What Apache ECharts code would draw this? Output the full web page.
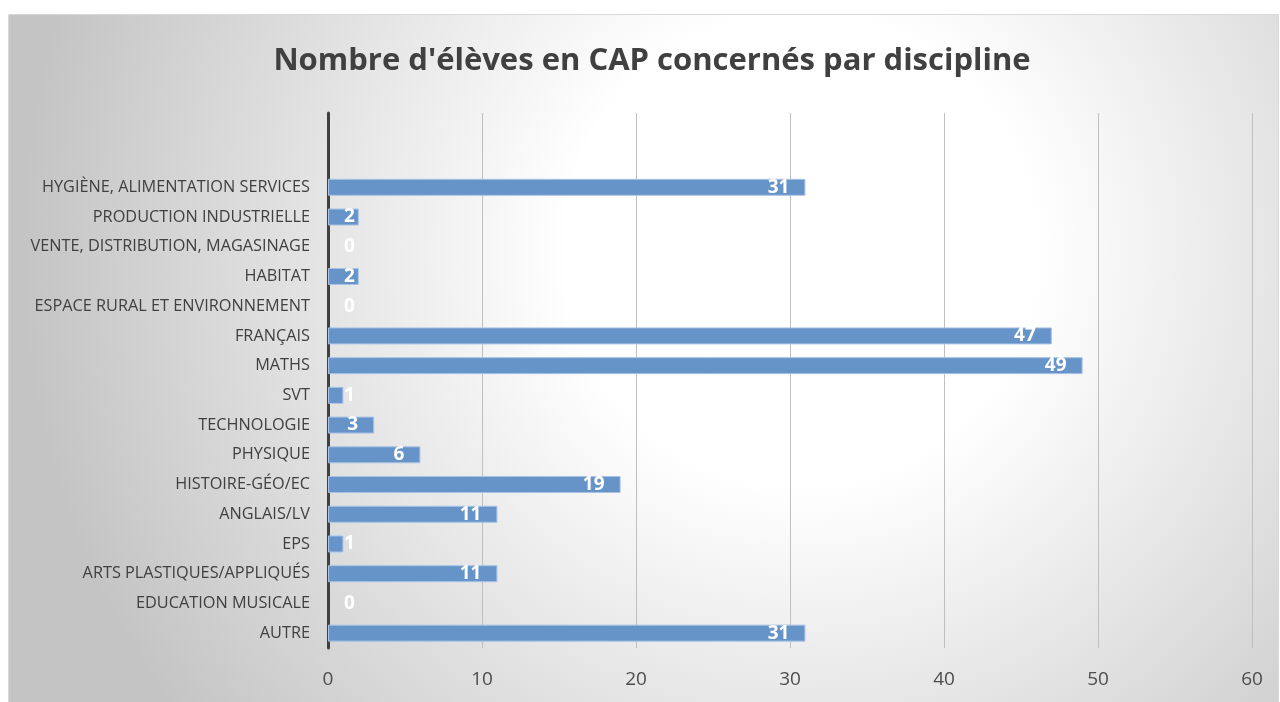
<!DOCTYPE html>
<html>
<head>
<meta charset="utf-8">
<script src="https://cdn.jsdelivr.net/npm/echarts@6/dist/echarts.min.js"></script>
<style>
html,body{margin:0;padding:0;background:#fff;}
#chart{width:1280px;height:702px;}
</style>
</head>
<body>
<div id="chart"></div>
<script>
// Categories listed bottom-to-top (as drawn on the category axis)
const categories = [
  'AUTRE',
  'EDUCATION MUSICALE',
  'ARTS PLASTIQUES/APPLIQUÉS',
  'EPS',
  'ANGLAIS/LV',
  'HISTOIRE-GÉO/EC',
  'PHYSIQUE',
  'TECHNOLOGIE',
  'SVT',
  'MATHS',
  'FRANÇAIS',
  'ESPACE RURAL ET ENVIRONNEMENT',
  'HABITAT',
  'VENTE, DISTRIBUTION, MAGASINAGE',
  'PRODUCTION INDUSTRIELLE',
  'HYGIÈNE, ALIMENTATION SERVICES'
];
const values = [31, 0, 11, 1, 11, 19, 6, 3, 1, 49, 47, 0, 2, 0, 2, 31];
const emptySlots = ['', ''];          // two blank category rows at the top of the plot
const xTicks = [0, 10, 20, 30, 40, 50, 60];
const titleText = "Nombre d'élèves en CAP concernés par discipline";

const FONT = 'Open Sans';
const axisCats = categories.concat(emptySlots);
const seriesData = values.map(v => {
  const item = { value: v };
  if (v < 3) {
    item.label = { position: 'insideLeft', distance: 16 };
  }
  if (v === 0) {
    item.itemStyle = { borderWidth: 0 };
  }
  return item;
}).concat(emptySlots.map(() => '-'));

const chart = echarts.init(document.getElementById('chart'), null, { renderer: 'canvas' });
chart.setOption({
  animation: false,
  backgroundColor: '#ffffff',
  graphic: [{
    type: 'rect',
    z: -10,
    silent: true,
    shape: { x: 8.5, y: 14.5, width: 1270, height: 690 },
    style: {
      fill: {
        type: 'radial', x: 800, y: 250, r: 780, global: true,
        colorStops: [
          { offset: 0, color: '#ffffff' },
          { offset: 0.3, color: '#ffffff' },
          { offset: 1, color: '#c4c4c4' }
        ]
      },
      stroke: '#d9d9d9',
      lineWidth: 1
    }
  }],
  title: {
    text: titleText,
    left: 647,
    top: 41,
    textAlign: 'center',
    textStyle: { fontFamily: FONT, fontSize: 31, fontWeight: 'bold', color: '#404040' }
  },
  grid: { left: 328, right: 28, top: 113, bottom: 54, containLabel: false },
  xAxis: {
    type: 'value',
    min: 0,
    max: 60,
    interval: 10,
    axisLine: { show: false },
    axisTick: { show: false },
    axisLabel: {
      margin: 22,
      fontFamily: FONT,
      fontSize: 19,
      color: '#4d4d4d',
      formatter: v => xTicks.indexOf(v) >= 0 ? String(v) : ''
    },
    splitLine: { show: true, lineStyle: { color: '#bfbfbf', width: 1 } }
  },
  yAxis: {
    type: 'category',
    data: axisCats,
    axisLine: { show: true, lineStyle: { color: '#404040', width: 3 } },
    axisTick: { show: false },
    axisLabel: {
      margin: 18,
      fontFamily: FONT,
      fontSize: 16.3,
      color: '#404040',
      interval: 0
    },
    splitLine: { show: false }
  },
  series: [{
    type: 'bar',
    data: seriesData,
    barWidth: 17,
    itemStyle: { color: '#6794c8', borderColor: '#a9c3e4', borderWidth: 1 },
    label: {
      show: true,
      position: 'insideRight',
      distance: 16,
      fontFamily: FONT,
      fontSize: 19,
      fontWeight: 'bold',
      color: '#ffffff'
    }
  }]
});
</script>
</body>
</html>
